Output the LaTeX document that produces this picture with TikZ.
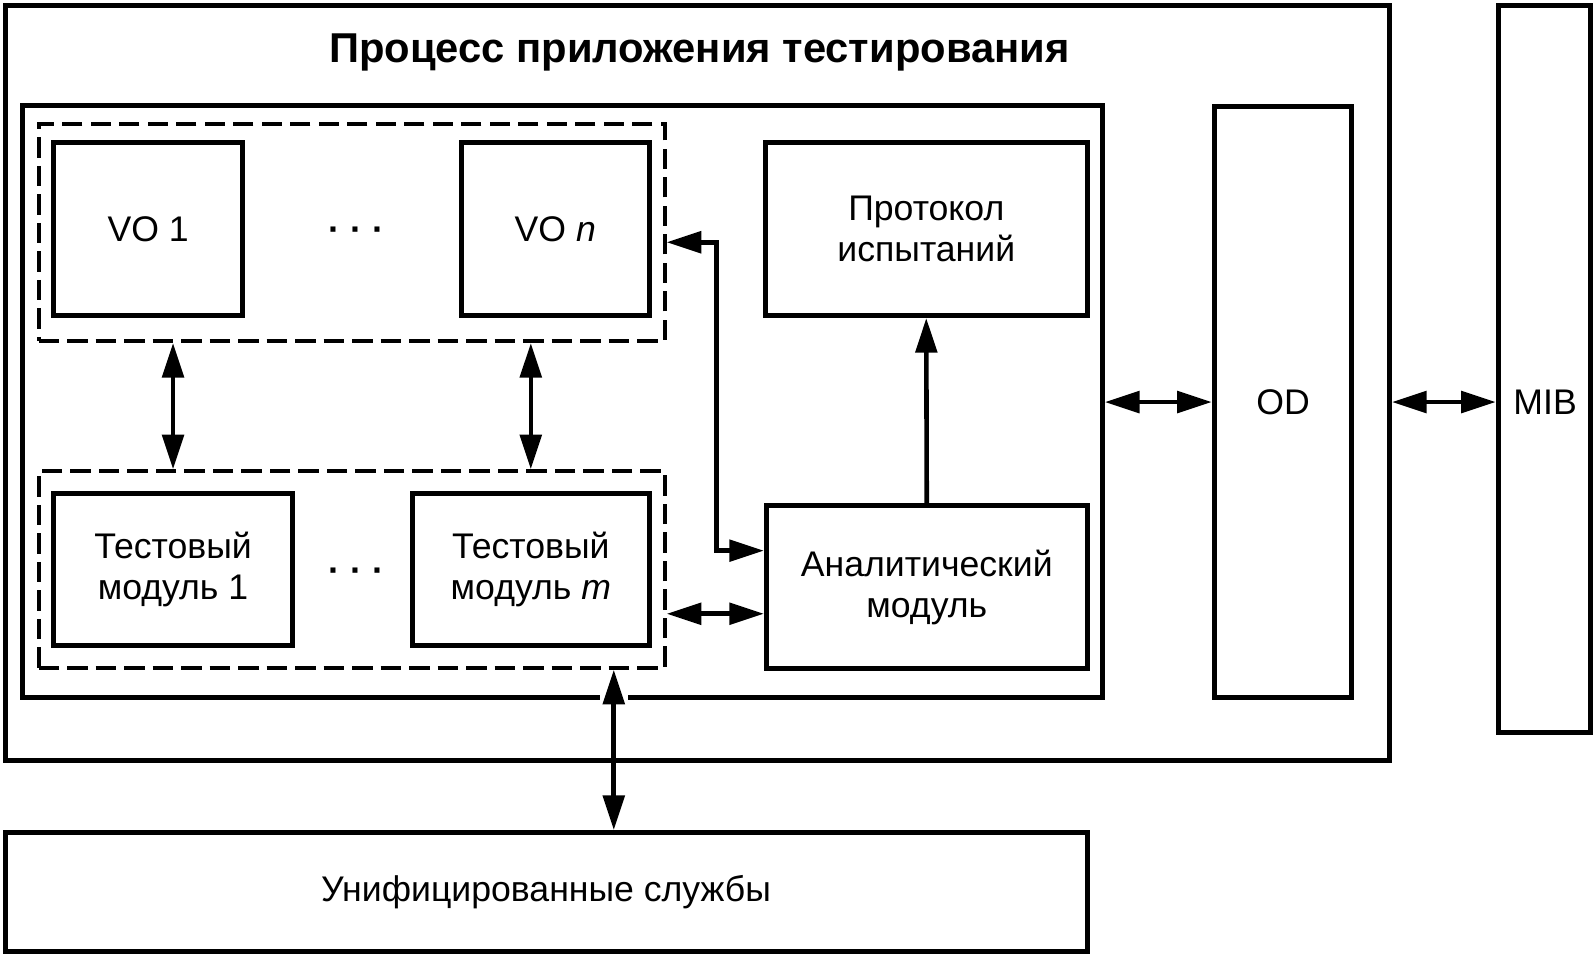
\documentclass[tikz,border=0pt]{standalone}
\usepackage{fontspec}
\setmainfont{Liberation Sans}
\usetikzlibrary{arrows.meta}
\tikzset{
	solid box/.style={rectangle, draw, line width=5pt, inner sep=0pt, align=center},
	dashed box/.style={rectangle, draw, line width=4pt, dash pattern=on 20pt off 8pt},
	two way link/.style={line width=4.5pt, <->, >={Triangle[length=34pt,width=21pt]}},
	one way link/.style={line width=4.5pt, ->, >={Triangle[length=34pt,width=21pt]}},
}

\begin{document}
\begin{tikzpicture}[x=1pt, y=-1pt, every node/.style={font=\fontsize{35}{40}\selectfont}]
\useasboundingbox (0,0) rectangle (1568,938);

% frames
\node[solid box, minimum width=1360pt, minimum height=742pt] (process) at (685,376) {};
\node[font=\fontsize{41}{46}\selectfont\bfseries] (title) at (687,52) {Процесс приложения тестирования};
\node[solid box, minimum width=1061pt, minimum height=581pt] (inner) at (552.5,394.5) {};
\node[dashed box, minimum width=615pt, minimum height=213pt] (vogroup) at (345.5,228.5) {};
\node[dashed box, minimum width=615pt, minimum height=193pt] (tmgroup) at (345.5,559.5) {};

% blocks
\node[solid box, minimum width=185pt, minimum height=170pt] (vo1) at (145.5,225) {VO 1};
\node[anchor=base] (vodots) at (350,237) {\textbf{· · ·}};
\node[solid box, minimum width=185pt, minimum height=170pt] (von) at (545.5,225) {VO \textit{n}};
\node[solid box, minimum width=316pt, minimum height=170pt] (prot) at (910,225) {Протокол\\испытаний};
\node[solid box, minimum width=234pt, minimum height=149pt] (tm1) at (170,559.5) {Тестовый\\модуль 1};
\node[anchor=base] (tmdots) at (350,572) {\textbf{· · ·}};
\node[solid box, minimum width=233pt, minimum height=149pt] (tmm) at (521.5,559.5) {Тестовый\\модуль \textit{m}};
\node[solid box, minimum width=315pt, minimum height=160pt] (anal) at (910.5,577) {Аналитический\\модуль};
\node[solid box, minimum width=135pt, minimum height=580pt] (od) at (1260.5,395) {OD};
\node[solid box, minimum width=91pt, minimum height=715pt] (mib) at (1517.5,362.5) {};
\node (mibtext) at (1518,395) {MIB};
\node[solid box, minimum width=1063pt, minimum height=117pt] (unif) at (536.5,876.5) {Унифицированные службы};

% connectors
\coordinate (bendA) at (704,238);
\coordinate (bendB) at (704,541);
\coordinate (tmlink) at (704,603);
\coordinate (srv) at (603,760);
\fill[white] (589,680) rectangle (617,691);
\draw[two way link] (tm1 |- vogroup.south) -- (tm1 |- tmgroup.north);
\draw[two way link] (tmm |- vogroup.south) -- (tmm |- tmgroup.north);
\draw[two way link] (vogroup.east |- bendA) -- (bendA) -- (bendB) -- (anal.west |- bendB);
\draw[two way link] (tmgroup.east |- tmlink) -- (anal.west |- tmlink);
\draw[one way link] (anal.north) -- (prot.south);
\draw[two way link] (inner.east |- od) -- (od.west);
\draw[two way link] (process.east |- od) -- (mib.west |- od);
\draw[two way link] (srv |- tmgroup.south) -- (srv |- unif.north);

\end{tikzpicture}
\end{document}
